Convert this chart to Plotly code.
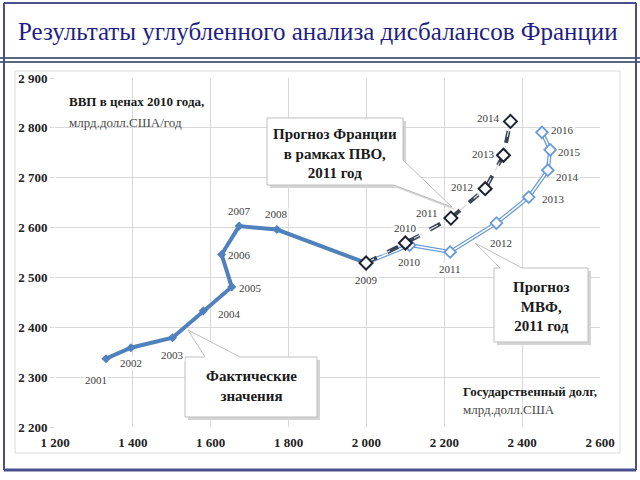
import plotly.graph_objects as go

# --- data (debt, bn USD  /  GDP in 2010 prices, bn USD per year) ---
fact_years = [2001, 2002, 2003, 2004, 2005, 2006, 2007, 2008, 2009]
fact_debt = [1331, 1395, 1502, 1581, 1654, 1628, 1673, 1770, 1999]
fact_gdp = [2337, 2359, 2379, 2433, 2481, 2546, 2603, 2596, 2529]

fr_years = [2009, 2010, 2011, 2012, 2013, 2014]
fr_debt = [1999, 2100, 2217, 2305, 2352, 2370]
fr_gdp = [2529, 2569, 2619, 2678, 2745, 2813]

imf_years = [2009, 2010, 2011, 2012, 2013, 2014, 2015, 2016]
imf_debt = [1999, 2111, 2215, 2334, 2417, 2466, 2472, 2451]
imf_gdp = [2529, 2565, 2551, 2609, 2661, 2715, 2756, 2791]

x_ticks = [1200, 1400, 1600, 1800, 2000, 2200, 2400, 2600]
y_ticks = [2200, 2300, 2400, 2500, 2600, 2700, 2800, 2900]

# label offsets in px (xshift, yshift)
fact_shift = [(-10, -21), (0, -15), (0, -17), (26, -3), (19, -1), (18, -1), (0, 15), (0, 16), (0, -17)]
fr_shift = [None, (0, 15), (-24, 5), (-23, 2), (-20, 1), (-22, 3)]
imf_shift = [None, (0, -17), (0, -17), (5, -20), (25, -2), (20, -7), (19, -2), (20, 2)]

SERIF = '"Liberation Serif", "DejaVu Serif", serif'
NAVY = "#4a4e8c"

# plot area in pixels (640x480 page)
L, R, T, B = 55, 600, 78, 427


def P(px, py):
    return (px - L) / (R - L), (B - py) / (B - T)


def path(points, dx=0, dy=0):
    pts = [P(x + dx, y + dy) for x, y in points]
    return "M " + " L ".join(f"{a:.4f},{b:.4f}" for a, b in pts) + " Z"


fig = go.Figure()

fig.add_trace(go.Scatter(
    x=fact_debt, y=fact_gdp, mode="lines+markers",
    line=dict(color="#4f81bd", width=4),
    marker=dict(symbol="diamond", size=7, color="#4f81bd"),
    hoverinfo="skip",
))
# IMF: light-blue double line
fig.add_trace(go.Scatter(
    x=imf_debt, y=imf_gdp, mode="lines",
    line=dict(color="#6a9bd6", width=4), hoverinfo="skip",
))
fig.add_trace(go.Scatter(
    x=imf_debt, y=imf_gdp, mode="lines+markers",
    line=dict(color="white", width=1.5),
    marker=dict(symbol="diamond", size=9, color="white", line=dict(color="#6a9bd6", width=1.8)),
    hoverinfo="skip",
))
# France: dark dashed double line
fig.add_trace(go.Scatter(
    x=fr_debt, y=fr_gdp, mode="lines",
    line=dict(color="#3a4556", width=4, dash="dash"), hoverinfo="skip",
))
fig.add_trace(go.Scatter(
    x=fr_debt, y=fr_gdp, mode="lines+markers",
    line=dict(color="#d8dde3", width=1.2, dash="dash"),
    marker=dict(symbol="diamond", size=10, color="white", line=dict(color="#1c2230", width=2)),
    hoverinfo="skip",
))

annotations = []


def year_labels(xs, ys, yrs, shifts):
    for x, y, yr, s in zip(xs, ys, yrs, shifts):
        if s is None:
            continue
        annotations.append(dict(
            x=x, y=y, xref="x", yref="y", text=str(yr), showarrow=False,
            xanchor="center", yanchor="middle",
            xshift=s[0], yshift=s[1], bgcolor="white", borderpad=0,
            font=dict(family=SERIF, size=11, color="#404040"),
        ))


year_labels(fact_debt, fact_gdp, fact_years, fact_shift)
year_labels(fr_debt, fr_gdp, fr_years, fr_shift)
year_labels(imf_debt, imf_gdp, imf_years, imf_shift)

# axis captions
for txt, px, py, bold in [
    ("ВВП в ценах 2010 года,", 67, 102, True),
    ("млрд.долл.США/год", 67, 122, False),
    ("Государственный долг,", 461, 391, True),
    ("млрд.долл.США", 461, 409, False),
]:
    x, y = P(px, py)
    annotations.append(dict(
        x=x, y=y, xref="paper", yref="paper", xanchor="left", yanchor="middle",
        text=f"<b>{txt}</b>" if bold else txt, showarrow=False,
        font=dict(family=SERIF, size=13, color="#1a1a1a" if bold else "#4a4a4a"),
    ))

# callouts: box outline with a wedge pointer
callouts = [
    ("Прогноз Франции<br>в рамках ПВО,<br>2011 год", 335, 153,
     [(267, 118), (403, 118), (403, 160), (452, 207), (394, 185), (267, 185)]),
    ("Прогноз<br>МВФ,<br>2011 год", 541, 306,
     [(494, 268), (500, 268), (475, 243), (522, 268), (588, 268), (588, 342), (494, 342)]),
    ("Фактические<br>значения", 251, 386,
     [(185, 357), (205, 357), (188, 330), (240, 357), (317, 357), (317, 417), (185, 417)]),
]
shapes = []
for txt, cx, cy, pts in callouts:
    shapes.append(dict(type="path", xref="paper", yref="paper", path=path(pts, 3, 3),
                       fillcolor="#d4d4d4", line=dict(width=0), layer="above"))
    shapes.append(dict(type="path", xref="paper", yref="paper", path=path(pts),
                       fillcolor="white", line=dict(color="#bfbfbf", width=1), layer="above"))
    x, y = P(cx, cy)
    annotations.append(dict(
        x=x, y=y, xref="paper", yref="paper", text=f"<b>{txt}</b>", showarrow=False,
        xanchor="center", yanchor="middle",
        font=dict(family=SERIF, size=15, color="#1a1a1a"),
    ))

# slide frame
def seg(x0, y0, x1, y1, color, width):
    a, b = P(x0, y0)
    c, d = P(x1, y1)
    shapes.append(dict(type="line", xref="paper", yref="paper", x0=a, y0=b, x1=c, y1=d,
                       line=dict(color=color, width=width), layer="below"))


seg(15, 71, 620, 71, "#dadada", 1)
seg(15, 453, 620, 453, "#dadada", 1)
seg(15, 71, 15, 453, "#dadada", 1)
seg(620, 71, 620, 453, "#dadada", 1)
seg(4, 3, 636, 3, NAVY, 2)
seg(0, 58, 640, 58, "#5a6580", 2)
seg(0, 62, 640, 62, "#5a6580", 2)
seg(4, 3, 4, 470, NAVY, 2)
seg(636, 3, 636, 470, NAVY, 2)
seg(4, 470, 636, 470, NAVY, 3)

tx, ty = P(318, 31)
annotations.append(dict(
    x=tx, y=ty, xref="paper", yref="paper", showarrow=False,
    xanchor="center", yanchor="middle",
    text="Результаты углубленного анализа дисбалансов Франции",
    font=dict(family=SERIF, size=25, color="#1f1f80"),
))

fig.update_layout(
    width=640, height=480,
    margin=dict(l=L, r=640 - R, t=T, b=480 - B),
    paper_bgcolor="white", plot_bgcolor="white",
    showlegend=False,
    separators=". ",
    annotations=annotations,
    shapes=shapes,
)
fig.update_xaxes(
    range=[1200, 2600], tickvals=x_ticks, separatethousands=True, tickformat=",d",
    showgrid=True, gridcolor="#d9d9d9", gridwidth=1, zeroline=False,
    showline=False, ticks="", ticklabelstandoff=6,
    tickfont=dict(family=SERIF, size=13, color="#222222", weight="bold"),
)
fig.update_yaxes(
    range=[2200, 2900], tickvals=y_ticks, separatethousands=True, tickformat=",d",
    showgrid=True, gridcolor="#d9d9d9", gridwidth=1, zeroline=False,
    showline=False, ticks="outside", ticklen=4, tickcolor="#d9d9d9",
    tickfont=dict(family=SERIF, size=13, color="#222222", weight="bold"),
)

fig.write_html("out.html", config={"displayModeBar": False},
               post_script="document.body.style.margin='0px';")
